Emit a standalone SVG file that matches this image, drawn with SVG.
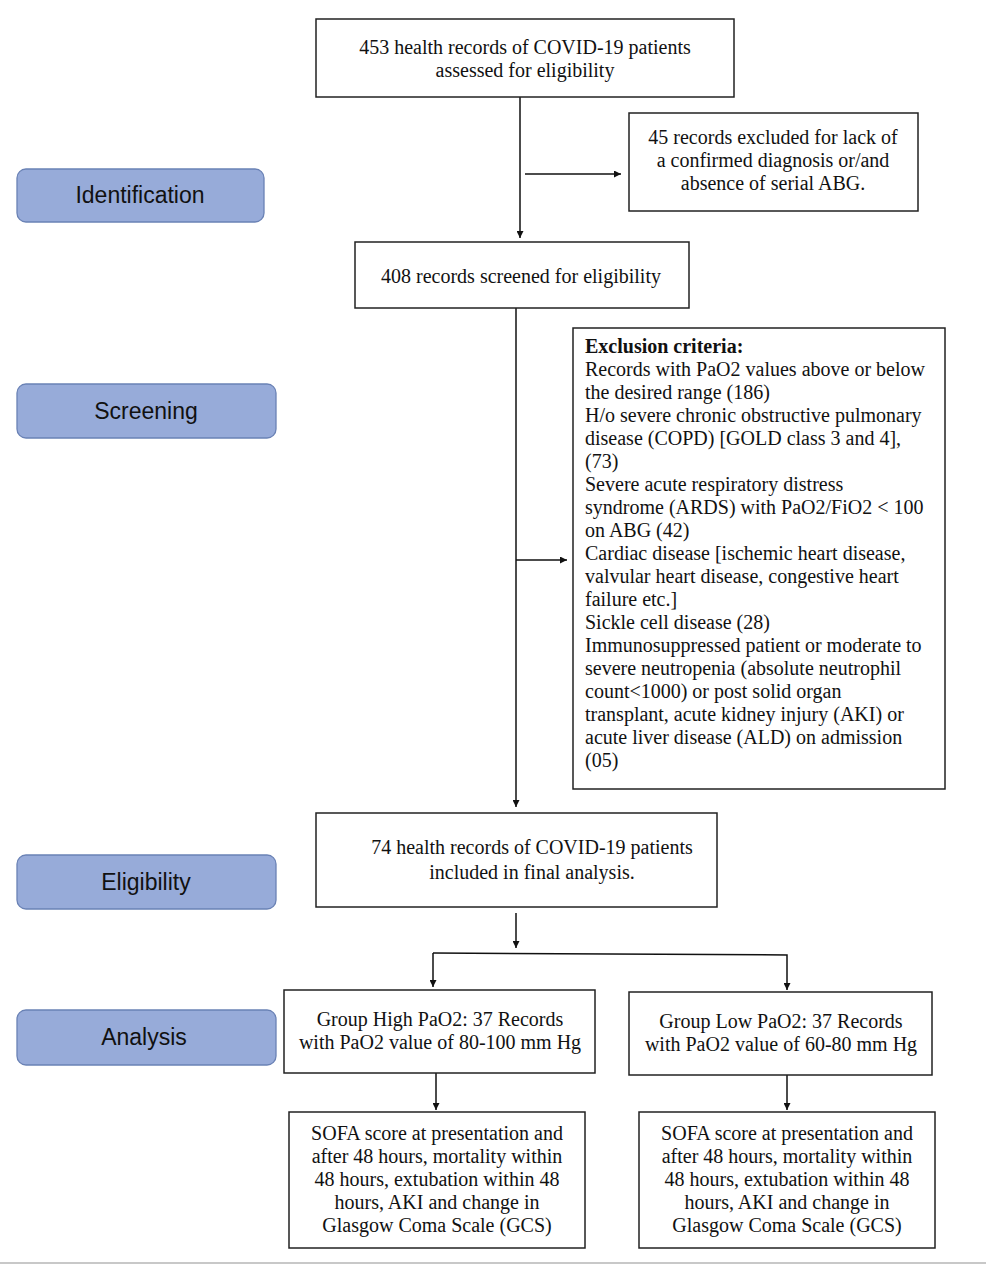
<svg xmlns="http://www.w3.org/2000/svg" width="986" height="1265" viewBox="0 0 986 1265">
<style>
.box{fill:#fff;stroke:#222;stroke-width:1.5}
.lbl{fill:#97abd9;stroke:#6a82b5;stroke-width:1.3}
.t{font-family:"Liberation Serif","Times New Roman",serif;font-size:20px;fill:#111}
.c{text-anchor:middle}
.s{font-family:"Liberation Sans",Arial,sans-serif;font-size:23px;fill:#111;text-anchor:middle}
.ln{stroke:#111;stroke-width:1.5;fill:none}
</style>
<defs>
<marker id="ah" viewBox="0 0 10 10" refX="10" refY="5" markerWidth="7" markerHeight="7" markerUnits="userSpaceOnUse" orient="auto">
<path d="M0,0 L10,5 L0,10 z" fill="#111"/>
</marker>
</defs>
<rect width="986" height="1265" fill="#fff"/>
<g id="lbl-identification"><rect class="lbl" x="17" y="169" width="247" height="53" rx="9"/><text class="s" x="140" y="203">Identification</text></g>
<g id="lbl-screening"><rect class="lbl" x="17" y="384" width="259" height="54" rx="9"/><text class="s" x="146" y="419">Screening</text></g>
<g id="lbl-eligibility"><rect class="lbl" x="17" y="855" width="259" height="54" rx="9"/><text class="s" x="146" y="890">Eligibility</text></g>
<g id="lbl-analysis"><rect class="lbl" x="17" y="1010" width="259" height="55" rx="9"/><text class="s" x="144" y="1045">Analysis</text></g>
<g id="connectors">
<line class="ln" x1="520" y1="97" x2="520" y2="238" marker-end="url(#ah)"/>
<line class="ln" x1="525" y1="174" x2="621" y2="174" marker-end="url(#ah)"/>
<line class="ln" x1="516" y1="308" x2="516" y2="807" marker-end="url(#ah)"/>
<line class="ln" x1="516" y1="560" x2="567" y2="560" marker-end="url(#ah)"/>
<line class="ln" x1="516" y1="913" x2="516" y2="948" marker-end="url(#ah)"/>
<polyline class="ln" points="433,953 787,955 787,990" marker-end="url(#ah)"/>
<line class="ln" x1="433" y1="953" x2="433" y2="987" marker-end="url(#ah)"/>
<line class="ln" x1="436" y1="1073" x2="436" y2="1110" marker-end="url(#ah)"/>
<line class="ln" x1="787" y1="1075" x2="787" y2="1110" marker-end="url(#ah)"/>
</g>
<g id="n-assessed"><rect class="box" x="316" y="19" width="418" height="78"/>
<text class="t c" x="525" y="54">453 health records of COVID-19 patients</text>
<text class="t c" x="525" y="77">assessed for eligibility</text></g>
<g id="n-excluded45"><rect class="box" x="629" y="113" width="289" height="98"/>
<text class="t c" x="773" y="144">45 records excluded for lack of</text>
<text class="t c" x="773" y="167">a confirmed diagnosis or/and</text>
<text class="t c" x="773" y="190">absence of serial ABG.</text></g>
<g id="n-screened"><rect class="box" x="355" y="242" width="334" height="66"/>
<text class="t c" x="521" y="283">408 records screened for eligibility</text></g>
<g id="n-exclusion"><rect class="box" x="573" y="328" width="372" height="461"/>
<text class="t" x="585" y="353"><tspan font-weight="bold">Exclusion criteria:</tspan>
<tspan x="585" dy="23">Records with PaO2 values above or below</tspan>
<tspan x="585" dy="23">the desired range (186)</tspan>
<tspan x="585" dy="23">H/o severe chronic obstructive pulmonary</tspan>
<tspan x="585" dy="23">disease (COPD) [GOLD class 3 and 4],</tspan>
<tspan x="585" dy="23">(73)</tspan>
<tspan x="585" dy="23">Severe acute respiratory distress</tspan>
<tspan x="585" dy="23">syndrome (ARDS) with PaO2/FiO2 &lt; 100</tspan>
<tspan x="585" dy="23">on ABG (42)</tspan>
<tspan x="585" dy="23">Cardiac disease [ischemic heart disease,</tspan>
<tspan x="585" dy="23">valvular heart disease, congestive heart</tspan>
<tspan x="585" dy="23">failure etc.]</tspan>
<tspan x="585" dy="23">Sickle cell disease (28)</tspan>
<tspan x="585" dy="23">Immunosuppressed patient or moderate to</tspan>
<tspan x="585" dy="23">severe neutropenia (absolute neutrophil</tspan>
<tspan x="585" dy="23">count&lt;1000) or post solid organ</tspan>
<tspan x="585" dy="23">transplant, acute kidney injury (AKI) or</tspan>
<tspan x="585" dy="23">acute liver disease (ALD) on admission</tspan>
<tspan x="585" dy="23">(05)</tspan></text></g>
<g id="n-included"><rect class="box" x="316" y="813" width="401" height="94"/>
<text class="t c" x="532" y="854">74 health records of COVID-19 patients</text>
<text class="t c" x="532" y="879">included in final analysis.</text></g>
<g id="n-high"><rect class="box" x="284" y="990" width="311" height="83"/>
<text class="t c" x="440" y="1026">Group High PaO2: 37 Records</text>
<text class="t c" x="440" y="1049">with PaO2 value of 80-100 mm Hg</text></g>
<g id="n-low"><rect class="box" x="629" y="992" width="303" height="83"/>
<text class="t c" x="781" y="1028">Group Low PaO2: 37 Records</text>
<text class="t c" x="781" y="1051">with PaO2 value of 60-80 mm Hg</text></g>
<g id="n-outcome-high"><rect class="box" x="289" y="1112" width="296" height="136"/>
<text class="t c" x="437" y="1140">SOFA score at presentation and</text>
<text class="t c" x="437" y="1163">after 48 hours, mortality within</text>
<text class="t c" x="437" y="1186">48 hours, extubation within 48</text>
<text class="t c" x="437" y="1209">hours, AKI and change in</text>
<text class="t c" x="437" y="1232">Glasgow Coma Scale (GCS)</text></g>
<g id="n-outcome-low"><rect class="box" x="639" y="1112" width="296" height="136"/>
<text class="t c" x="787" y="1140">SOFA score at presentation and</text>
<text class="t c" x="787" y="1163">after 48 hours, mortality within</text>
<text class="t c" x="787" y="1186">48 hours, extubation within 48</text>
<text class="t c" x="787" y="1209">hours, AKI and change in</text>
<text class="t c" x="787" y="1232">Glasgow Coma Scale (GCS)</text></g>
<line x1="0" y1="1263" x2="986" y2="1263" stroke="#c8c8c8" stroke-width="2"/>
</svg>
